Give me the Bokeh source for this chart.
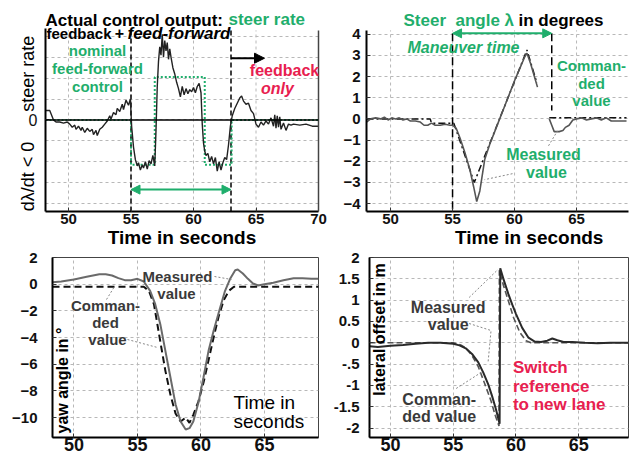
import math
from bokeh.plotting import figure
from bokeh.layouts import column, row
from bokeh.models import Range1d, FixedTicker, Label, Span, Arrow, NormalHead, LinearAxis
from bokeh.embed import file_html
from bokeh.resources import INLINE

nan = float("nan")

# ---------------- data ----------------
# panel 1: steer rate (measured control output) and nominal feed-forward
steer_rate_t = [48.2, 48.5, 48.8, 49.0, 49.3, 49.6, 49.9, 50.1, 50.3, 50.5,
                50.6, 50.8, 51.0, 51.1, 51.3, 51.5, 51.7, 51.9, 52.0, 52.2,
                52.3, 52.5, 52.7, 52.9, 53.1, 53.3, 53.4, 53.6, 53.8, 53.9,
                54.1, 54.3, 54.4, 54.6, 54.8, 54.95, 55.05, 55.2, 55.35, 55.5,
                55.6, 55.75, 55.9, 56.0, 56.15, 56.3, 56.45, 56.6, 56.75, 56.9,
                57.0, 57.1, 57.2, 57.3, 57.4, 57.5, 57.6, 57.7, 57.8, 57.9,
                58.0, 58.1, 58.2, 58.35, 58.5, 58.65, 58.8, 58.95, 59.1, 59.25,
                59.4, 59.55, 59.7, 59.85, 60.0, 60.15, 60.3, 60.45, 60.6, 60.7,
                60.8, 60.9, 61.0, 61.15, 61.3, 61.45, 61.6, 61.75, 61.9, 62.05,
                62.2, 62.35, 62.5, 62.65, 62.8, 62.95, 63.1, 63.3, 63.5, 63.7,
                63.85, 64.0, 64.2, 64.4, 64.6, 64.8, 65.0, 65.2, 65.4, 65.6,
                65.8, 66.0, 66.2, 66.4, 66.5, 66.6, 66.7, 66.8, 66.9, 67.0,
                67.2, 67.4, 67.6, 67.8, 68.0, 68.5, 69.0, 69.5, 70.0]
steer_rate_meas = [0.45, 0.45, 0.0, -0.1, -0.1, -0.15, -0.1, -0.2, -0.35, -0.25,
                   -0.45, -0.3, -0.5, -0.35, -0.6, -0.4, -0.55, -0.45, -0.7, -0.5,
                   -0.75, -0.45, -0.35, -0.2, -0.05, 0.2, 0.05, 0.35, 0.25, 0.55,
                   0.4, 0.75, 0.5, 0.95, 0.7, 1.0, -0.3, -1.3, -1.9, -2.2,
                   -2.05, -2.4, -2.15, -2.3, -2.0, -2.35, -1.95, -2.1, -1.7, -2.2,
                   -0.5, 1.6, 2.8, 3.5, 3.1, 4.1, 3.0, 3.8, 3.3, 3.7,
                   2.9, 3.4, 3.0, 2.5, 2.2, 1.8, 1.5, 1.1, 1.6, 1.2,
                   1.5, 1.25, 1.45, 1.35, 1.55, 1.3, 1.6, 1.75, 1.3, -0.2,
                   -1.1, -1.5, -1.7, -1.6, -2.0, -1.75, -2.1, -1.8, -2.45, -2.0,
                   -2.4, -2.05, -1.8, -1.9, -1.2, -0.3, 0.2, 0.55, 0.8, 1.05,
                   1.15, 0.9, 0.75, 0.8, 0.45, 0.3, -0.2, -0.35, -0.1, -0.25,
                   -0.05, -0.2, 0.1, -0.3, 0.25, -0.4, 0.2, -0.35, 0.15, -0.45,
                   -0.15, -0.5, -0.2, -0.25, -0.2, -0.25, -0.2, -0.3, -0.3]
ff_t = [48.16, 55.0, 55.0, 56.9, 56.9, 60.9, 60.9, 63.05, 63.05, 70.0]
ff_v = [0.0, 0.0, -2.15, -2.15, 2.05, 2.05, -2.15, -2.15, 0.0, 0.0]
phases = [55.0, 63.0]          # start of maneuver, switch to feedback only

# panel 2: steer angle
angle_t = [48.06, 48.4, 48.8, 49.2, 49.5, 49.8, 50.1, 50.4, 50.7, 51.0,
           51.3, 51.6, 52.0, 52.4, 52.7, 53.0, 53.3, 53.6, 54.0, 54.4,
           54.8, 55.0, 55.3, 55.6, 56.0, 56.4, 56.7, 56.95, 57.2, 57.6,
           58.0, 58.4, 58.8, 59.2, 59.6, 60.0, 60.4, 60.8, 61.0, 61.3,
           61.6, 61.85, 62.3, 62.8, 63.0, 63.2, 63.6, 63.9, 64.1, 64.4,
           64.7, 65.0, 65.4, 65.8, 66.2, 66.6, 67.0, 67.4, 67.8, 68.2,
           68.6, 69.03]
angle_meas = [-0.15, 0.0, 0.05, 0.0, 0.08, -0.05, 0.05, 0.0, 0.05, -0.05,
              0.0, -0.1, -0.1, -0.15, -0.3, -0.3, -0.2, -0.3, -0.3, -0.25,
              -0.3, -0.3, -0.45, -0.9, -1.6, -2.4, -3.2, -3.9, -3.4, -1.9,
              -1.2, -0.6, 0.0, 0.6, 1.2, 1.8, 2.35, 2.9, 3.1, 2.6,
              2.0, 1.5, nan, 0.0, -0.3, -0.6, -0.6, -0.55, -0.4, -0.3,
              -0.05, 0.0, 0.05, -0.05, 0.0, 0.05, -0.05, 0.05, -0.1, -0.1,
              -0.1, -0.1]
angle_cmd_t = [48.06, 53.2, 53.3, 55.1, 56.75, 61.0, 61.8, 62.3, 62.8, 69.03]
angle_cmd_v = [0.0, 0.0, -0.2, -0.2, -3.0, 3.25, 1.7, nan, 0.05, 0.05]

# panel 3: yaw angle
yaw_t = [48.31, 49.0, 50.0, 51.0, 52.0, 52.5, 53.0, 53.5, 54.0, 54.5,
         55.0, 55.5, 56.0, 56.4, 56.8, 57.2, 57.6, 58.0, 58.4, 58.8,
         59.1, 59.4, 59.8, 60.2, 60.6, 61.0, 61.5, 61.9, 62.3, 62.7,
         62.9, 63.3, 63.7, 64.1, 64.5, 65.0, 65.7, 66.5, 67.3, 68.0,
         68.7, 69.26]
yaw_meas = [0.15, 0.2, 0.35, 0.55, 0.75, 0.75, 0.65, 0.45, 0.3, 0.3,
            0.4, 0.2, -0.5, -1.5, -3.0, -5.0, -7.0, -9.0, -10.3, -10.9,
            -10.8, -10.3, -8.9, -7.0, -5.0, -3.5, -1.8, -0.5, 0.4, 1.05,
            1.1, 0.8, 0.4, 0.05, -0.1, 0.0, 0.1, 0.3, 0.45, 0.45,
            0.4, 0.4]
yaw_cmd_t = [48.31, 55.5, 55.9, 56.3, 56.8, 57.2, 57.6, 58.0, 58.4, 58.8, 59.1,
             59.4, 59.8, 60.2, 60.6, 61.0, 61.4, 61.8, 62.2, 62.6, 69.26]
yaw_cmd_v = [-0.2, -0.2, -0.5, -1.5, -4.3, -6.5, -8.3, -9.7, -10.3, -10.0, -10.4,
             -9.8, -8.8, -7.4, -5.7, -4.0, -2.4, -1.2, -0.5, -0.2, -0.2]

# panel 4: lateral offset
lat_t = [48.33, 49.0, 50.0, 51.0, 52.0, 53.0, 54.0, 55.0, 55.5, 56.0,
         56.5, 57.0, 57.4, 57.8, 58.1, 58.4, 58.7, 58.75, 59.0, 59.4,
         59.7, 60.0, 60.5, 61.0, 61.5, 62.0, 62.5, 62.9, 63.3, 63.8,
         64.5, 65.5, 66.5, 67.5, 68.97]
lat_meas = [-0.08, -0.1, -0.07, -0.05, -0.02, 0.0, 0.0, -0.02, -0.06, -0.13,
            -0.26, -0.46, -0.7, -0.98, -1.25, -1.55, -1.9, 1.75, 1.5, 1.14,
            0.9, 0.68, 0.35, 0.12, 0.03, 0.02, 0.05, 0.1, 0.06, 0.02,
            0.02, 0.0, -0.01, 0.0, 0.0]
lat_cmd_t = [48.33, 55.0, 55.6, 56.0, 56.5, 57.0, 57.5, 58.0, 58.35, 58.65,
             58.68, 59.0, 59.4, 59.8, 60.3, 60.8, 61.2, 68.97]
lat_cmd_v = [0.0, 0.0, -0.05, -0.12, -0.3, -0.56, -0.95, -1.35, -1.7, -1.95,
             1.7, 1.35, 0.98, 0.6, 0.25, 0.05, 0.0, 0.0]

time_ticks = [50, 55, 60, 65, 70]
rate_ticks = [-4, -3, -2, -1, 0, 1, 2, 3, 4]
angle_ticks = [-4, -3, -2, -1, 0, 1, 2, 3, 4]
yaw_ticks = [2, 0, -2, -4, -6, -8, -10]
lat_ticks = [2, 1.5, 1, 0.5, 0, -0.5, -1, -1.5, -2]
lat_tick_labels = ["2", "1.5", "1", "0.5", "0", "-.5", "-1", "-1.5", "-2"]

# ---------------- style ----------------
FONT = "Liberation Sans"
GREEN = "#1fae6c"
RED = "#e8204f"
GRAYTXT = "#3a3a3a"
GRID = "#b8b8b8"
NB = "\u00a0"

# page-pixel geometry of each plot frame (used to place annotations)
G1 = dict(frame=(45, 0, 318, 212), xr=(48.16, 70.0), yr=(-4.381, 5.714))
G2 = dict(frame=(366, 0, 628, 212), xr=(48.06, 69.19), yr=(-4.37, 5.588))
G3 = dict(frame=(52, 257, 318, 437), xr=(48.31, 69.26), yr=(-11.5, 2.0))
G4 = dict(frame=(368, 257, 628, 437), xr=(48.33, 68.97), yr=(-2.22, 2.0))


def P(g, px, py):
    fl, ft, fr, fb = g["frame"]
    x0, x1 = g["xr"]
    y0, y1 = g["yr"]
    return (x0 + (px - fl) / (fr - fl) * (x1 - x0),
            y1 - (py - ft) / (fb - ft) * (y1 - y0))


def txt(p, g, s, px, py, size=15, color="black", style="bold", align="center", angle=0.0):
    x, y = P(g, px, py)
    p.add_layout(Label(x=x, y=y, text=s, text_font=FONT, text_font_size=f"{size}px",
                       text_font_style=style, text_color=color, text_align=align,
                       text_baseline="middle", angle=angle))


def leader(p, g, pts, color="#888888", dash="2 2"):
    xs, ys = zip(*[P(g, a, b) for a, b in pts])
    p.line(list(xs), list(ys), line_color=color, line_width=1, line_dash=dash)


def make_fig(g, width, height, left, right, top, bottom, xticks, yticks, ystandoff):
    p = figure(width=width, height=height, x_range=Range1d(*g["xr"]), y_range=Range1d(*g["yr"]),
               output_backend="svg", toolbar_location=None,
               min_border_left=left, min_border_right=right,
               min_border_top=top, min_border_bottom=bottom)
    p.background_fill_color = "white"
    p.border_fill_color = "white"
    p.xaxis.ticker = FixedTicker(ticks=xticks)
    p.yaxis.ticker = FixedTicker(ticks=yticks)
    for ax in p.axis:
        ax.axis_line_color = "black"
        ax.axis_line_width = 2
        ax.major_tick_in = 4
        ax.major_tick_out = 0
        ax.major_tick_line_color = "#333333"
        ax.minor_tick_line_color = None
        ax.major_label_text_font = FONT
        ax.major_label_text_font_style = "bold"
        ax.major_label_text_font_size = "15px"
        ax.major_label_text_color = "#111111"
        ax.axis_label_text_font = FONT
        ax.axis_label_text_font_style = "bold"
        ax.axis_label_text_color = "black"
    p.xaxis.major_label_standoff = 2
    p.yaxis.major_label_standoff = ystandoff
    p.grid.grid_line_color = GRID
    p.grid.grid_line_dash = "3 3"
    p.grid.grid_line_width = 1
    return p


# ---------------- panel 1 ----------------
p1 = make_fig(G1, 336, 250, 45, 18, 0, 38, time_ticks, [0], 8)
p1.outline_line_color = None
p1.xgrid.visible = False
p1.ygrid.ticker = FixedTicker(ticks=rate_ticks)
top1 = P(G1, 0, 30)[1]
p1.yaxis.bounds = (G1["yr"][0], P(G1, 0, 28)[1])
p1.yaxis.major_label_text_font_style = "normal"
p1.yaxis.major_label_text_font_size = "16px"
p1.yaxis.axis_label = "dλ/dt < 0" + NB * 6 + "steer rate" + NB * 7
p1.yaxis.axis_label_text_font_style = "normal"
p1.yaxis.axis_label_text_font_size = "18px"
p1.yaxis.axis_label_standoff = -12
p1.xaxis.axis_label = "Time in seconds"
p1.xaxis.axis_label_text_font_size = "19px"
p1.xaxis.axis_label_standoff = 0
right_ax = LinearAxis(ticker=FixedTicker(ticks=[]), major_tick_line_color=None,
                      minor_tick_line_color=None, axis_line_color="#444444",
                      axis_line_width=1.5, bounds=(G1["yr"][0], top1))
p1.add_layout(right_ax, "right")
n_grid = len(time_ticks) - 1
p1.segment(x0=time_ticks[:n_grid], y0=[G1["yr"][0]] * n_grid, x1=time_ticks[:n_grid],
           y1=[top1] * n_grid, line_color=GRID, line_dash="3 3", line_width=1)
p1.add_layout(Span(location=0, dimension="width", line_color="black", line_width=1.5))
p1.segment(x0=phases, y0=[G1["yr"][0]] * 2, x1=phases, y1=[top1] * 2,
           line_color="black", line_width=1.5, line_dash="5 3")
p1.line(ff_t, ff_v, line_color=GREEN, line_width=2, line_dash="2 2")
p1.line(steer_rate_t, steer_rate_meas, line_color="#222222", line_width=1.4)
ya = P(G1, 0, 190)[1]
p1.add_layout(Arrow(start=NormalHead(size=9, fill_color=GREEN, line_color=GREEN),
                    end=NormalHead(size=9, fill_color=GREEN, line_color=GREEN),
                    x_start=phases[0], y_start=ya, x_end=phases[1], y_end=ya,
                    line_color=GREEN, line_width=2))
yb = P(G1, 0, 58)[1]
p1.add_layout(Arrow(end=NormalHead(size=10, fill_color="black", line_color="black"),
                    x_start=phases[1], y_start=yb, x_end=P(G1, 264, 0)[0], y_end=yb,
                    line_color="black", line_width=2))
txt(p1, G1, "Actual control output:", 45, 20, size=17, align="left")
txt(p1, G1, "steer rate", 228, 19, size=17, color=GREEN, align="left")
txt(p1, G1, "feedback", 46, 33, size=15, align="left")
txt(p1, G1, "+", 119, 33, size=16)
txt(p1, G1, "feed-forward", 127, 33, size=17, style="bold italic", align="left")
txt(p1, G1, "nominal", 97, 50, size=15, color=GREEN)
txt(p1, G1, "feed-forward", 97, 68, size=15, color=GREEN)
txt(p1, G1, "control", 97, 86, size=15, color=GREEN)
txt(p1, G1, "feedback", 284, 70, size=16, color=RED)
txt(p1, G1, "only", 277, 88, size=16, color=RED, style="bold italic")

# ---------------- panel 2 ----------------
p2 = make_fig(G2, 299, 250, 30, 7, 0, 38, time_ticks[:4], angle_ticks, 6)
p2.outline_line_color = None
p2.xgrid.visible = False
top2 = P(G2, 0, 30)[1]
p2.yaxis.bounds = (G2["yr"][0], top2)
p2.xaxis.axis_label = NB * 12 + "Time in seconds"
p2.xaxis.axis_label_text_font_size = "19px"
p2.xaxis.axis_label_standoff = 0
n2 = len(time_ticks) - 1
p2.segment(x0=time_ticks[:n2], y0=[G2["yr"][0]] * n2, x1=time_ticks[:n2],
           y1=[top2] * n2, line_color=GRID, line_dash="3 3", line_width=1)
arr2 = P(G2, 0, 33)[1]
p2.segment(x0=phases, y0=[arr2, arr2], x1=phases, y1=[G2["yr"][0], 0.4],
           line_color="black", line_width=1.5, line_dash="8 4")
p2.line(angle_cmd_t, angle_cmd_v, line_color="#111111", line_width=1.5, line_dash="7 3 2 3")
p2.line(angle_t, angle_meas, line_color="#555555", line_width=1.6)
p2.add_layout(Arrow(start=NormalHead(size=9, fill_color=GREEN, line_color=GREEN),
                    end=NormalHead(size=9, fill_color=GREEN, line_color=GREEN),
                    x_start=phases[0], y_start=arr2, x_end=phases[1], y_end=arr2,
                    line_color=GREEN, line_width=2))
leader(p2, G2, [(512, 174), (484, 180)])
leader(p2, G2, [(548, 146), (557, 131)])
txt(p2, G2, "Steer" + NB + NB + "angle λ", 403, 20, size=17, color=GREEN, align="left")
txt(p2, G2, "in degrees", 518, 20, size=17, align="left")
txt(p2, G2, "Maneuver time", 463, 47, size=16, color=GREEN, style="bold italic")
txt(p2, G2, "Comman-", 591, 65, size=15, color=GREEN)
txt(p2, G2, "ded", 591, 83, size=15, color=GREEN)
txt(p2, G2, "value", 591, 100, size=15, color=GREEN)
txt(p2, G2, "Measured", 543, 155, size=16, color=GREEN)
txt(p2, G2, "value", 546, 173, size=16, color=GREEN)

# ---------------- panel 3 ----------------
p3 = make_fig(G3, 330, 206, 52, 12, 7, 19, time_ticks[:4], yaw_ticks, 15)
p3.xaxis.major_label_text_font_size = "18px"
p3.xaxis.major_label_standoff = 0
p3.outline_line_color = "#444444"
p3.outline_line_width = 1
p3.line(yaw_cmd_t, yaw_cmd_v, line_color="#111111", line_width=2, line_dash="7 4")
p3.line(yaw_t, yaw_meas, line_color="#6a6a6a", line_width=2)
leader(p3, G3, [(214, 276), (231, 279)])
leader(p3, G3, [(127, 339), (157, 347)])
leader(p3, G3, [(106, 299), (114, 286)])
txt(p3, G3, "Measured", 177, 276, size=15, color=GRAYTXT)
txt(p3, G3, "value", 176, 293, size=15, color=GRAYTXT)
txt(p3, G3, "Comman-", 105, 305, size=15, color=GRAYTXT)
txt(p3, G3, "ded", 105, 322, size=15, color=GRAYTXT)
txt(p3, G3, "value", 107, 339, size=15, color=GRAYTXT)
txt(p3, G3, "Time in", 233, 402, size=19, style="normal", align="left")
txt(p3, G3, "seconds", 233, 421, size=19, style="normal", align="left")
txt(p3, G3, "yaw angle in °", 62, 380, size=16, angle=math.pi / 2)

# ---------------- panel 4 ----------------
p4 = make_fig(G4, 305, 206, 38, 7, 7, 19, time_ticks[:4], lat_ticks, 10)
p4.xaxis.major_label_text_font_size = "18px"
p4.xaxis.major_label_standoff = 0
p4.yaxis.major_label_overrides = dict(zip(lat_ticks, lat_tick_labels))
p4.outline_line_color = "#444444"
p4.outline_line_width = 1
p4.line(lat_cmd_t, lat_cmd_v, line_color="#555555", line_width=1.6, line_dash="6 3")
p4.line(lat_t, lat_meas, line_color="#2a2a2a", line_width=2)
leader(p4, G4, [(468, 297), (497, 269)])
leader(p4, G4, [(468, 323), (490, 330), (487, 362)])
leader(p4, G4, [(455, 388), (480, 372)])
txt(p4, G4, "lateral offset in m", 378, 329, size=16, angle=math.pi / 2)
txt(p4, G4, "Measured", 447, 307, size=16, color=GRAYTXT)
txt(p4, G4, "value", 447, 324, size=16, color=GRAYTXT)
txt(p4, G4, "Comman-", 438, 399, size=16, color=GRAYTXT)
txt(p4, G4, "ded value", 438, 416, size=16, color=GRAYTXT)
txt(p4, G4, "Switch", 512, 367, size=17, color=RED, align="left")
txt(p4, G4, "reference", 512, 386, size=17, color=RED, align="left")
txt(p4, G4, "to new lane", 512, 404, size=17, color=RED, align="left")

layout = column(row(p1, p2), row(p3, p4))
open("out.html", "w").write(file_html(layout, INLINE))
